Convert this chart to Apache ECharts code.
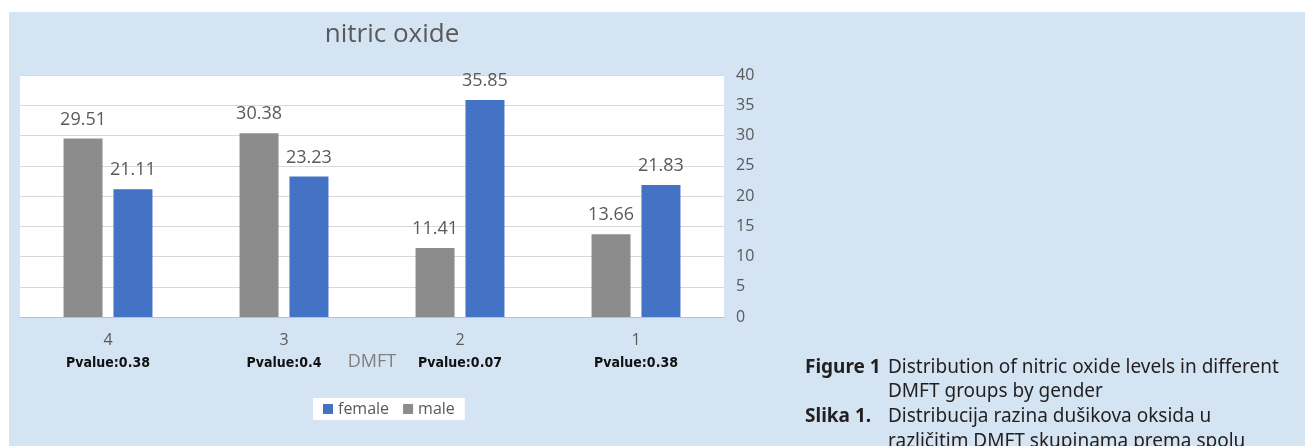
<!DOCTYPE html>
<html>
<head>
<meta charset="utf-8">
<script src="https://cdn.jsdelivr.net/npm/echarts@6/dist/echarts.min.js"></script>
<style>
html,body{margin:0;padding:0;background:#fff;}
#c{width:1305px;height:446px;}
</style>
</head>
<body>
<div id="c"></div>
<script>
const categories = ['4', '3', '2', '1'];
const pvalues = ['Pvalue:0.38', 'Pvalue:0.4', 'Pvalue:0.07', 'Pvalue:0.38'];
const maleValues = [29.51, 30.38, 11.41, 13.66];
const femaleValues = [21.11, 23.23, 35.85, 21.83];
const yTicks = [0, 5, 10, 15, 20, 25, 30, 35, 40];

const chart = echarts.init(document.getElementById('c'), null, {renderer: 'canvas'});
const labelStyle = {
  show: true, position: 'top', distance: 10,
  color: '#595959', fontFamily: 'Open Sans', fontSize: 18
};
function capLine(x, y, text, bold) {
  return {type: 'text', x: x, y: y, silent: true,
    style: {text: text, font: (bold ? 'bold ' : '') + '19px "Noto Sans"', fill: '#231f20', verticalAlign: 'middle', align: 'left'}};
}
const option = {
  backgroundColor: 'transparent',
  animation: false,
  graphic: [
    {type: 'rect', z: -10, silent: true, shape: {x: 9, y: 12, width: 1296, height: 434}, style: {fill: '#d4e4f3'}},
    capLine(805, 368, 'Figure 1', true),
    capLine(888, 368, 'Distribution of nitric oxide levels in different', false),
    capLine(888, 392, 'DMFT groups by gender', false),
    capLine(805, 417, 'Slika 1.', true),
    capLine(888, 417, 'Distribucija razina dušikova oksida u', false),
    capLine(888, 442, 'različitim DMFT skupinama prema spolu', false)
  ],
  title: {
    text: 'nitric oxide', left: 387, top: 17, textAlign: 'center',
    textStyle: {color: '#595959', fontFamily: 'Open Sans', fontSize: 26, fontWeight: 'normal'}
  },
  legend: {
    data: ['female', 'male'],
    left: 313, top: 398,
    backgroundColor: '#ffffff', padding: [3, 10],
    itemWidth: 10, itemHeight: 10, itemGap: 14, icon: 'rect',
    textStyle: {color: '#595959', fontFamily: 'Open Sans', fontSize: 16}
  },
  grid: {
    left: 20, right: 581, top: 75, bottom: 129,
    show: true, backgroundColor: '#ffffff', borderWidth: 0
  },
  xAxis: {
    type: 'category', data: categories,
    name: 'DMFT', nameLocation: 'middle', nameGap: 36, nameMoveOverlap: false,
    nameTextStyle: {color: '#7f7f7f', fontFamily: 'Open Sans', fontSize: 18},
    axisLine: {lineStyle: {color: '#bfbfbf'}},
    axisTick: {show: false},
    axisLabel: {
      margin: 12,
      formatter: function (v, i) { return '{a|' + v + '}\n{b|' + pvalues[i] + '}'; },
      rich: {
        a: {color: '#595959', fontFamily: 'Open Sans', fontSize: 16, lineHeight: 22},
        b: {color: '#111', fontFamily: '"Liberation Sans Narrow", "DejaVu Sans Condensed", sans-serif', fontWeight: 'bold', fontSize: 14, lineHeight: 24}
      }
    }
  },
  yAxis: {
    type: 'value', position: 'right', min: 0, max: 40, interval: 5,
    axisLine: {show: false}, axisTick: {show: false},
    splitLine: {lineStyle: {color: '#d9d9d9'}},
    axisLabel: {
      margin: 12, color: '#595959', fontFamily: 'Open Sans', fontSize: 16,
      formatter: function (v) { return yTicks.indexOf(v) >= 0 ? String(v) : ''; }
    }
  },
  series: [
    {name: 'male', type: 'bar', data: maleValues, barWidth: 39, barGap: '28%', itemStyle: {color: '#8c8c8c'}, label: labelStyle},
    {name: 'female', type: 'bar', data: femaleValues, barWidth: 39, barGap: '28%', itemStyle: {color: '#4472c4'}, label: labelStyle}
  ]
};
chart.setOption(option);
</script>
</body>
</html>
